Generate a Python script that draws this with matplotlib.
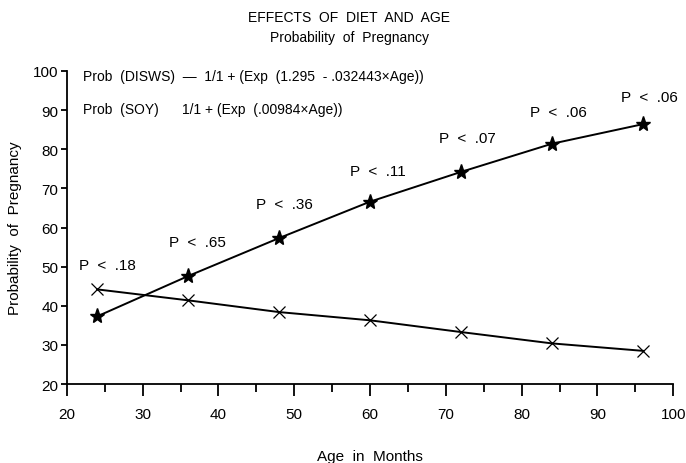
import matplotlib
matplotlib.use("Agg")
import matplotlib.pyplot as plt
from matplotlib.ticker import MultipleLocator

plt.rcParams['font.family'] = ['Liberation Sans', 'DejaVu Sans']

ages = [24, 36, 48, 60, 72, 84, 96]
disws = [37.3, 47.6, 57.3, 66.6, 74.2, 81.4, 86.4]
soy = [44.2, 41.4, 38.4, 36.3, 33.3, 30.4, 28.5]
p_labels = ["P  <  .18", "P  <  .65", "P  <  .36", "P  <  .11", "P  <  .07", "P  <  .06", "P  <  .06"]
p_x = [25.4, 37.2, 48.7, 61.0, 72.9, 84.9, 96.8]
p_y = [50.4, 56.3, 66.0, 74.5, 82.9, 89.5, 93.4]
xticks = [20, 30, 40, 50, 60, 70, 80, 90, 100]
yticks = [20, 30, 40, 50, 60, 70, 80, 90, 100]

fig = plt.figure(figsize=(6.86, 4.64), dpi=100)
ax = fig.add_axes([0.0974, 0.170, 0.884, 0.675])

ax.plot(ages, disws, color='black', lw=1.4, marker='*', ms=11,
        markerfacecolor='black', markeredgecolor='black', zorder=3)
ax.plot(ages, soy, color='black', lw=1.4, marker='x', ms=8,
        markeredgewidth=0.9, zorder=3)

for lbl, x, y in zip(p_labels, p_x, p_y):
    ax.text(x, y, lbl, ha='center', va='center', fontsize=11)

ax.text(22.2, 98.6, "Prob  (DISWS)  \u2014  1/1 + (Exp  (1.295  - .032443\u00d7Age))",
        ha='left', va='center', fontsize=10)
ax.text(22.2, 90.4, "Prob  (SOY)      1/1 + (Exp  (.00984\u00d7Age))",
        ha='left', va='center', fontsize=10)

ax.set_xlim(20, 100)
ax.set_ylim(20, 100)
ax.set_xticks(xticks)
ax.set_yticks(yticks)
ax.xaxis.set_minor_locator(MultipleLocator(5))
ax.tick_params(axis='x', which='major', direction='out', length=8.5, width=1.3,
               labelsize=11, pad=8)
ax.tick_params(axis='x', which='minor', direction='out', length=5.5, width=1.3)
ax.tick_params(axis='y', which='major', direction='out', length=4, width=1.3,
               labelsize=11, pad=2)
for s in ['top', 'right']:
    ax.spines[s].set_visible(False)
for s in ['left', 'bottom']:
    ax.spines[s].set_linewidth(1.3)

ax.set_xlabel("Age  in  Months", fontsize=11, labelpad=20)
ax.set_ylabel("Probability  of  Pregnancy", fontsize=11, labelpad=8)

fig.text(0.509, 0.962, "EFFECTS  OF  DIET  AND  AGE", ha='center', va='center', fontsize=10)
fig.text(0.509, 0.918, "Probability  of  Pregnancy", ha='center', va='center', fontsize=10)

fig.savefig("out.png", dpi=100)
